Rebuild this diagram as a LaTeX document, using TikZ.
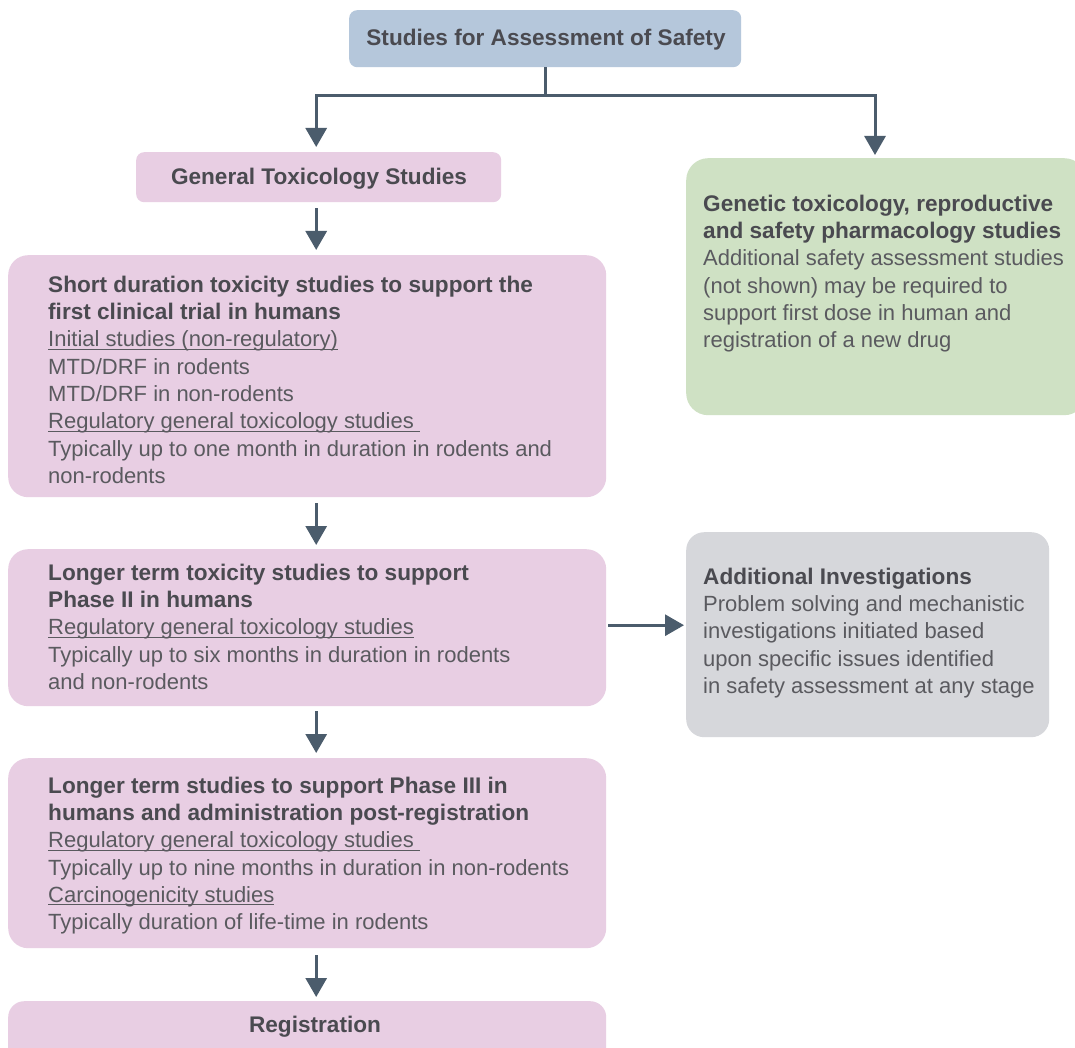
\documentclass[tikz,border=0pt]{standalone}
\usepackage{fontspec}
\setmainfont{Liberation Sans}
\usetikzlibrary{arrows.meta,calc}
\definecolor{cblue}{HTML}{B5C7DB}
\definecolor{cpink}{HTML}{E8CEE3}
\definecolor{cgreen}{HTML}{CFE1C4}
\definecolor{cgray}{HTML}{D6D7DB}
\definecolor{carrow}{HTML}{4B5C6C}
\definecolor{ctext}{HTML}{5A5A5F}
\definecolor{cbold}{HTML}{4A4A50}
\newcommand\myul[1]{\setbox0\hbox{#1}\rlap{\rule[-2.6pt]{\wd0}{0.9pt}}\box0}
\newcommand\hd[1]{{\fontsize{22.6}{27.3}\selectfont\bfseries\color{cbold}#1}}
\begin{document}
\begin{tikzpicture}[x=1pt,y=-1pt,
  box/.style={anchor=north west, inner sep=0pt, draw=none},
  txt/.style={anchor=north west, inner sep=0pt, align=left, text=ctext, font=\fontsize{22}{27.3}\selectfont},
  btxt/.style={anchor=base, inner sep=0pt, text=cbold, font=\fontsize{22.6}{27.3}\selectfont\bfseries},
  arr/.style={draw=carrow, line width=3pt, -{Triangle[width=21pt,length=19pt]}},
]
\useasboundingbox (0,0) rectangle (1075,1048);
\fill[white] (0,0) rectangle (1075,1048);

% boxes
\node[box, fill=cblue, rounded corners=8pt, minimum width=392pt, minimum height=57pt] (top) at (349,10) {};
\node[box, fill=cpink, rounded corners=8pt, minimum width=365pt, minimum height=50pt] (gtox) at (136,152) {};
\node[box, fill=cgreen, rounded corners=22pt, minimum width=400pt, minimum height=257pt] (green) at (686,158) {};
\node[box, fill=cpink, rounded corners=20pt, minimum width=598pt, minimum height=242pt] (short) at (8,255) {};
\node[box, fill=cpink, rounded corners=20pt, minimum width=598pt, minimum height=157pt] (long) at (8,549) {};
\node[box, fill=cgray, rounded corners=18pt, minimum width=363pt, minimum height=205pt] (gray) at (686,532) {};
\node[box, fill=cpink, rounded corners=20pt, minimum width=598pt, minimum height=190pt] (p3) at (8,758) {};
\node[box, fill=cpink, rounded corners=16pt, minimum width=598pt, minimum height=70pt] (reg) at (8,1001) {};

% texts
\node[btxt] (topT) at (546,46) {Studies for Assessment of Safety};
\node[btxt] (gtoxT) at (319,185) {General Toxicology Studies};
\node[btxt] (regT) at (315,1032) {Registration};

\node[txt] (shortT) at (48,273) {\strut\hd{Short duration toxicity studies to support the}\\
\hd{first clinical trial in humans}\\
\myul{Initial studies (non-regulatory)}\\
MTD/DRF in rodents\\
MTD/DRF in non-rodents\\
\myul{Regulatory general toxicology studies\ }\\
Typically up to one month in duration in rodents and\\
non-rodents};

\node[txt] (longT) at (48,561) {\strut\hd{Longer term toxicity studies to support}\\
\hd{Phase II in humans}\\
\myul{Regulatory general toxicology studies}\\
Typically up to six months in duration in rodents\\
and non-rodents};

\node[txt] (p3T) at (48,774) {\strut\hd{Longer term studies to support Phase III in}\\
\hd{humans and administration post-registration}\\
\myul{Regulatory general toxicology studies\ }\\
Typically up to nine months in duration in non-rodents\\
\myul{Carcinogenicity studies}\\
Typically duration of life-time in rodents};

\node[txt] (greenT) at (703,192) {\strut\hd{Genetic toxicology, reproductive}\\
\hd{and safety pharmacology studies}\\
Additional safety assessment studies\\
(not shown) may be required to\\
support first dose in human and\\
registration of a new drug};

\node[txt] (grayT) at (703,565) {\strut\hd{Additional Investigations}\\
Problem solving and mechanistic\\
investigations initiated based\\
upon specific issues identified\\
in safety assessment at any stage};

% connectors
\draw[carrow, line width=3pt] (top.south) -- ++(0,28) coordinate (j);
\draw[arr] (j) -| ($(gtox.north)+(-2.5,-5)$);
\draw[arr] (j) -| ($(green.north west)+(189,-3)$);
\draw[arr] ($(gtox.south)+(-2.5,6)$) -- ($(short.north)+(9,-5)$);
\draw[arr] ($(short.south)+(9,6)$) -- ($(long.north)+(9,-4)$);
\draw[arr] ($(long.south)+(9,5)$) -- ($(p3.north)+(9,-5)$);
\draw[arr] ($(p3.south)+(9,7)$) -- ($(reg.north)+(9,-4)$);
\draw[arr] ($(long.east)+(2,-2.5)$) -- ($(gray.west |- long.east)+(-2,-2.5)$);
\end{tikzpicture}
\end{document}
